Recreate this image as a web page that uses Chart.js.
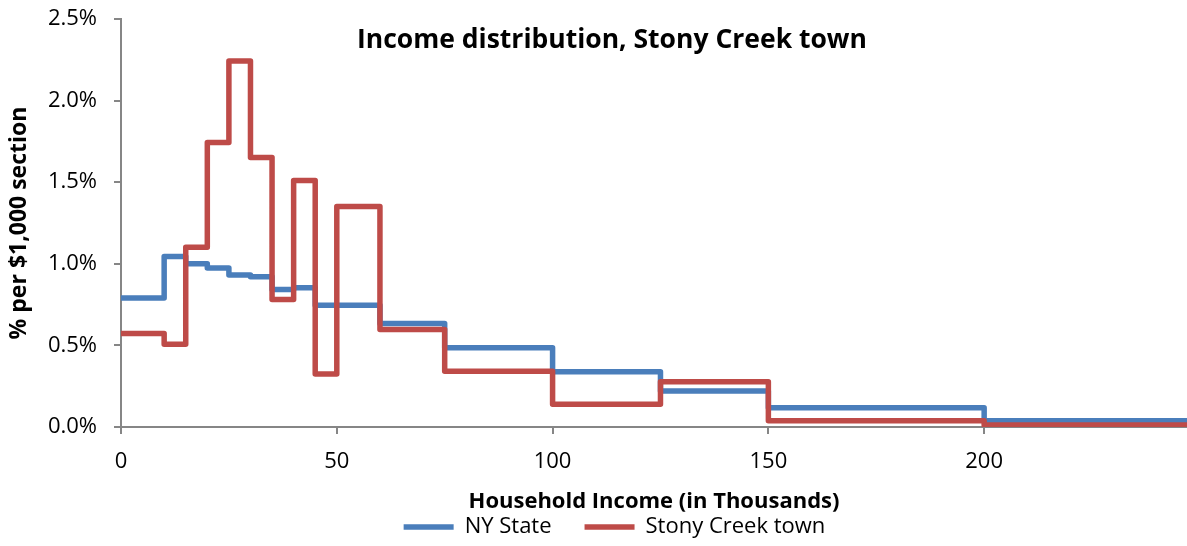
<!DOCTYPE html>
<html>
<head>
<meta charset="utf-8">
<title>Income distribution, Stony Creek town</title>
<script src="https://cdn.jsdelivr.net/npm/chart.js@4.4.1/dist/chart.umd.min.js"></script>
<style>
  html, body { margin: 0; padding: 0; background: #fff; }
  #wrap { width: 1187px; height: 546px; }
</style>
</head>
<body>
<div id="wrap"><canvas id="incomeChart"></canvas></div>
<script>
// bracket edges in thousands of $, the last one closes the open "200+" bracket
var binEdges = [0, 10, 15, 20, 25, 30, 35, 40, 45, 50, 60, 75, 100, 125, 150, 200, 250];
// share of households per $1,000 of each bracket (in %)
var nyState = [0.79, 1.045, 1.00, 0.975, 0.932, 0.92, 0.842, 0.854, 0.746, 0.746, 0.634, 0.485, 0.338, 0.22, 0.118, 0.039];
var stonyCreek = [0.573, 0.507, 1.102, 1.744, 2.243, 1.652, 0.782, 1.51, 0.324, 1.351, 0.597, 0.342, 0.139, 0.277, 0.039, 0.012];
var xTicks = [0, 50, 100, 150, 200];
var yTicks = [0, 0.5, 1.0, 1.5, 2.0, 2.5];

var chartTitle = 'Income distribution, Stony Creek town';
var FONT = '"Open Sans"';

// one point per bracket start, the final edge repeats the last value
function steps(vals) {
    return binEdges.map(function (x, i) {
        return { x: x, y: vals[Math.min(i, vals.length - 1)] };
    });
}

// title sits inside the plot area like the original
var insideTitle = {
    id: 'insideTitle',
    afterDraw: function (chart) {
        var ctx = chart.ctx;
        ctx.save();
        ctx.font = 'bold 26.5px ' + FONT;
        ctx.fillStyle = '#000';
        ctx.textAlign = 'center';
        ctx.textBaseline = 'alphabetic';
        ctx.fillText(chartTitle, 612, 48);
        ctx.restore();
    }
};

// legend is a bit right of the canvas centre and tight under the axis title
// (only top moves so the legend clip box still holds the text)
var nudgeLegend = {
    id: 'nudgeLegend',
    afterLayout: function (chart) {
        var lg = chart.legend;
        lg.left += 21; lg.right += 21;
        lg.top -= 32;
    }
};

var axisGrey = '#868686';

new Chart(document.getElementById('incomeChart'), {
    type: 'line',
    data: {
        datasets: [{
            label: 'NY State',
            data: steps(nyState),
            borderColor: '#4a7ebb',
            backgroundColor: '#4a7ebb',
            borderWidth: 5.5,
            borderCapStyle: 'round',
            borderJoinStyle: 'round',
            stepped: 'before',
            pointRadius: 0,
            fill: false,
            order: 2
        }, {
            label: 'Stony Creek town',
            data: steps(stonyCreek),
            borderColor: '#be4b48',
            backgroundColor: '#be4b48',
            borderWidth: 5.5,
            borderCapStyle: 'round',
            borderJoinStyle: 'round',
            stepped: 'before',
            pointRadius: 0,
            fill: false,
            order: 1
        }]
    },
    options: {
        responsive: true,
        maintainAspectRatio: false,
        animation: false,
        layout: { padding: { top: 19, left: 0, right: 0, bottom: 0 } },
        plugins: {
            title: { display: false },
            tooltip: { enabled: false },
            legend: {
                position: 'bottom',
                maxHeight: 31,
                labels: {
                    usePointStyle: true,
                    pointStyle: 'line',
                    pointStyleWidth: 50,
                    padding: 33,
                    color: '#000',
                    font: { family: FONT, size: 22 },
                    sort: function (a, b) { return a.datasetIndex - b.datasetIndex; }
                }
            }
        },
        scales: {
            x: {
                type: 'linear',
                min: 0,
                max: 247,
                afterFit: function (s) { s.height = 88; },
                afterBuildTicks: function (s) {
                    s.ticks = xTicks.map(function (v) { return { value: v }; });
                },
                grid: { drawOnChartArea: false, tickLength: 7, color: axisGrey, lineWidth: 2 },
                border: { color: axisGrey, width: 2 },
                ticks: { padding: 15, color: '#000', font: { family: FONT, size: 22 } },
                title: {
                    display: true,
                    text: 'Household Income (in Thousands)',
                    color: '#000',
                    font: { family: FONT, size: 22, weight: 'bold' },
                    padding: { top: 0, bottom: 0 }
                }
            },
            y: {
                min: 0,
                max: 2.5,
                afterFit: function (s) {
                    s.width = 121;
                    s.paddingTop = 0;
                    s.paddingBottom = 0;
                },
                afterBuildTicks: function (s) {
                    s.ticks = yTicks.map(function (v) { return { value: v }; });
                },
                grid: { drawOnChartArea: false, tickLength: 7, color: axisGrey, lineWidth: 2 },
                border: { color: axisGrey, width: 2 },
                ticks: {
                    padding: 17,
                    color: '#000',
                    font: { family: FONT, size: 22 },
                    callback: function (v) { return v.toFixed(1) + '%'; }
                },
                title: {
                    display: true,
                    text: '% per $1,000 section',
                    color: '#000',
                    font: { family: FONT, size: 23, weight: 'bold' },
                    padding: { top: 6, bottom: 0 }
                }
            }
        }
    },
    plugins: [insideTitle, nudgeLegend]
});
</script>
</body>
</html>
